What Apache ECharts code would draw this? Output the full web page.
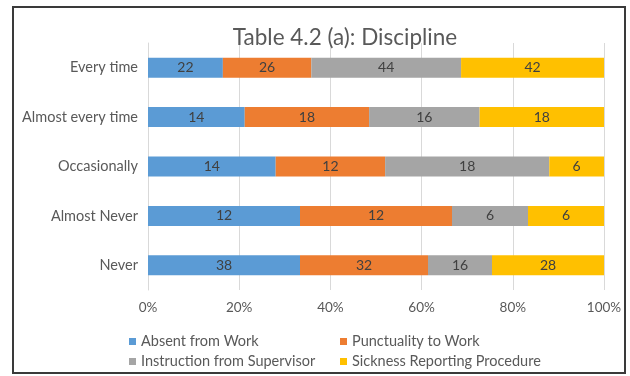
<!DOCTYPE html>
<html>
<head>
<meta charset="utf-8">
<script src="https://cdn.jsdelivr.net/npm/echarts@6/dist/echarts.min.js"></script>
<style>
html, body { margin: 0; padding: 0; background: #fff; }
#main { width: 630px; height: 376px; }
</style>
</head>
<body>
<div id="main"></div>
<script>
var categories = ['Every time', 'Almost every time', 'Occasionally', 'Almost Never', 'Never'];
var seriesNames = ['Absent from Work', 'Punctuality to Work', 'Instruction from Supervisor', 'Sickness Reporting Procedure'];
var absent = [22, 14, 14, 12, 38];
var punctuality = [26, 18, 12, 12, 32];
var instruction = [44, 16, 18, 6, 16];
var sickness = [42, 18, 6, 6, 28];
var colors = ['#5B9BD5', '#ED7D31', '#A5A5A5', '#FFC000'];

var raw = [absent, punctuality, instruction, sickness];
var totals = categories.map(function (c, i) {
    return absent[i] + punctuality[i] + instruction[i] + sickness[i];
});

var font = 'Lato, "Open Sans", sans-serif';

var myChart = echarts.init(document.getElementById('main'));

// legend: two columns, two rows, one legend per item
var legendPos = [[124, 329], [335, 329], [124, 349], [335, 349]];
var legends = seriesNames.map(function (name, i) {
    return {
        data: [name],
        left: legendPos[i][0],
        top: legendPos[i][1],
        icon: 'rect',
        itemWidth: 7,
        itemHeight: 7,
        itemGap: 5,
        selectedMode: false,
        textStyle: { color: '#595959', fontSize: 14.5, fontFamily: font }
    };
});

var series = raw.map(function (vals, s) {
    return {
        name: seriesNames[s],
        type: 'bar',
        stack: 'total',
        barWidth: 20,
        itemStyle: { color: colors[s] },
        label: {
            show: true,
            position: 'inside',
            color: '#404040',
            fontSize: 14,
            fontFamily: font,
            formatter: function (p) { return vals[p.dataIndex]; }
        },
        data: vals.map(function (v, i) { return v / totals[i] * 100; })
    };
});

var option = {
    backgroundColor: '#fff',
    title: {
        text: 'Table 4.2 (a): Discipline',
        left: 340,
        textAlign: 'center',
        top: 21,
        textStyle: { color: '#595959', fontSize: 22.5, fontWeight: 'normal', fontFamily: font }
    },
    legend: legends,
    grid: { left: 148, right: 26, top: 43, bottom: 86 },
    xAxis: {
        type: 'value',
        min: 0,
        max: 100,
        interval: 20,
        axisLine: { show: false },
        axisTick: { show: false },
        splitLine: { lineStyle: { color: '#d9d9d9' } },
        axisLabel: { formatter: '{value}%', color: '#595959', fontSize: 13.5, fontFamily: font, margin: 11 }
    },
    yAxis: {
        type: 'category',
        inverse: true,
        data: categories,
        axisLine: { show: true, lineStyle: { color: '#d9d9d9' } },
        axisTick: { show: false },
        axisLabel: { color: '#595959', fontSize: 14.5, fontFamily: font, margin: 10 }
    },
    graphic: [{
        type: 'rect',
        shape: { x: 13, y: 7, width: 612, height: 366 },
        style: { fill: 'none', stroke: '#3a3a3a', lineWidth: 2 },
        silent: true
    }],
    series: series
};
myChart.setOption(option);
</script>
</body>
</html>
